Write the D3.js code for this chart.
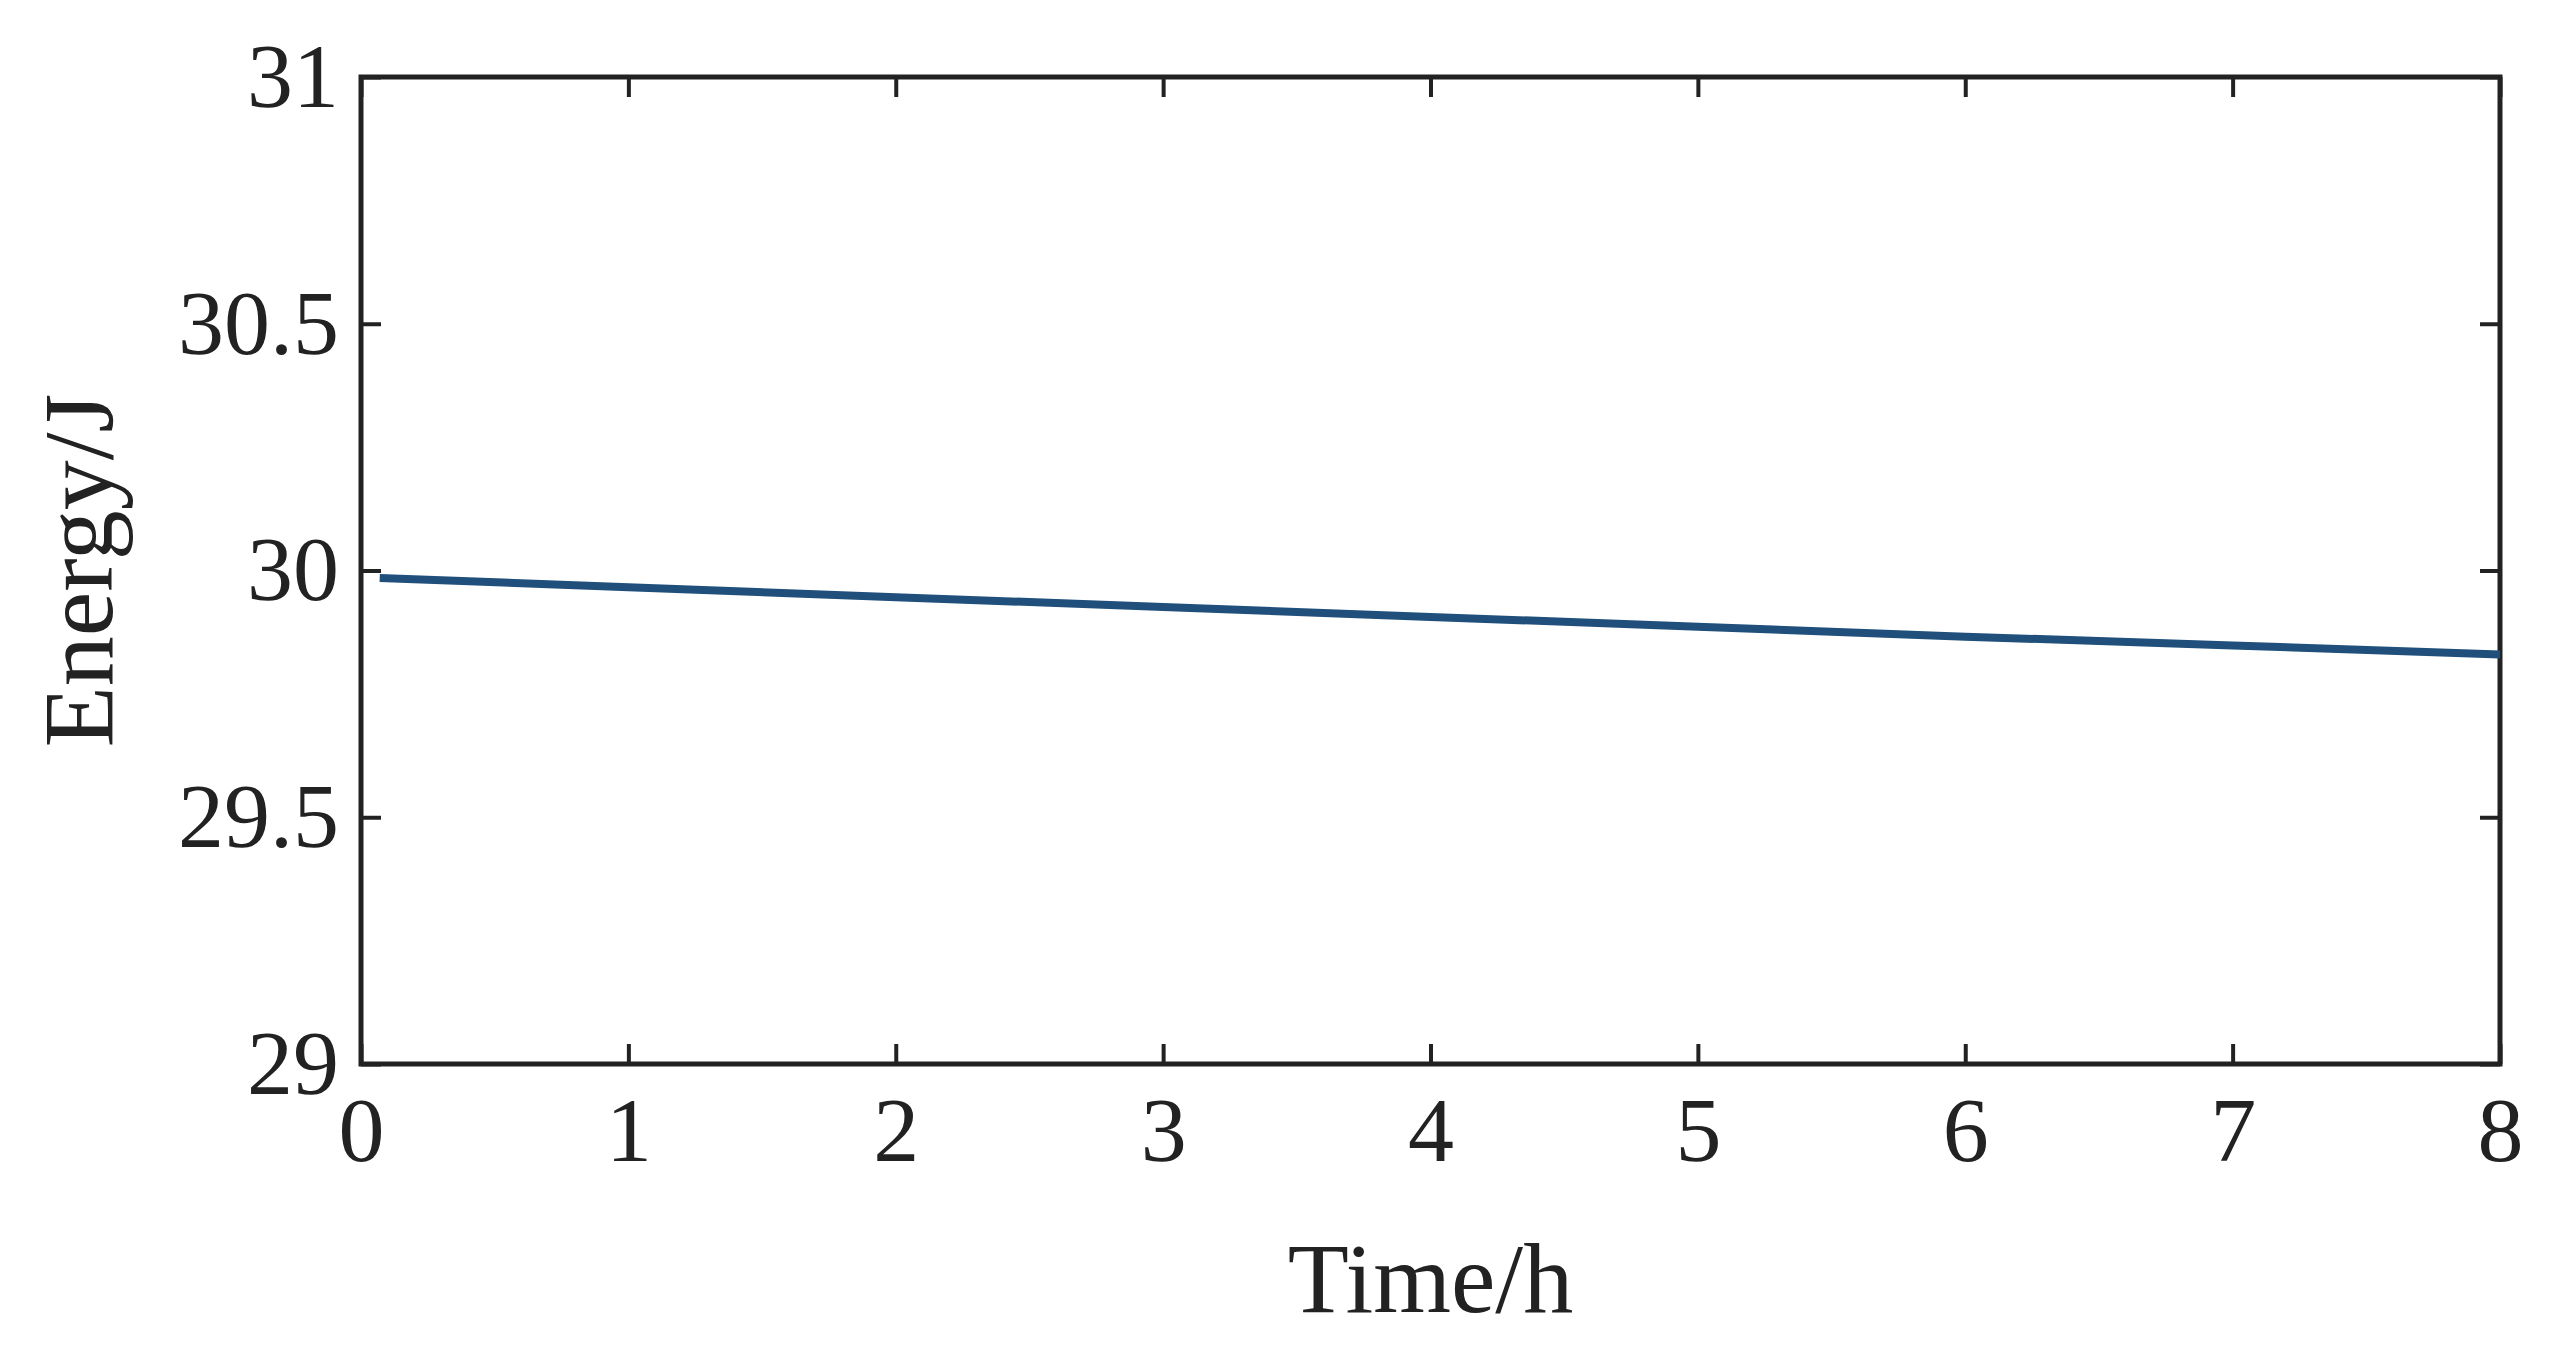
<!DOCTYPE html>
<html>
<head>
<meta charset="utf-8">
<script src="https://cdn.jsdelivr.net/npm/d3@7"></script>
<style>
  body { margin: 0; background: #fff; }
  text { font-family: 'Liberation Serif', 'DejaVu Serif', serif; fill: #222; }
</style>
</head>
<body>
<svg id="chart" width="2562" height="1358"></svg>
<script>
// Data
const timeH = [0.07, 1, 2, 3, 4, 5, 6, 7, 8];
const energyJ = [29.985, 29.966, 29.946, 29.926, 29.906, 29.886, 29.866, 29.848, 29.83];
const xTicks = [0, 1, 2, 3, 4, 5, 6, 7, 8];
const yTicks = [29, 29.5, 30, 30.5, 31];

const margin = { top: 77, right: 62, bottom: 294, left: 361 };
const width = 2562 - margin.left - margin.right;
const height = 1358 - margin.top - margin.bottom;

const svg = d3.select('#chart');
const g = svg.append('g').attr('transform', `translate(${margin.left},${margin.top})`);

const x = d3.scaleLinear().domain([0, 8]).range([0, width]);
const y = d3.scaleLinear().domain([29, 31]).range([height, 0]);

const tickLen = 20;
const fontSize = 92;

// Axes with inward ticks on all four sides
const styleAxis = (sel) => {
  sel.select('.domain').remove();
  sel.selectAll('line').attr('stroke', '#222').attr('stroke-width', 4);
  sel.selectAll('text').style('font-size', fontSize + 'px');
};

g.append('g').attr('transform', `translate(0,${height})`)
  .call(d3.axisBottom(x).tickValues(xTicks).tickSizeInner(-tickLen).tickSizeOuter(0).tickPadding(32).tickFormat(d3.format('d')))
  .call(styleAxis);
g.append('g')
  .call(d3.axisTop(x).tickValues(xTicks).tickSizeInner(-tickLen).tickSizeOuter(0).tickFormat(''))
  .call(styleAxis);
g.append('g')
  .call(d3.axisLeft(y).tickValues(yTicks).tickSizeInner(-tickLen).tickSizeOuter(0).tickPadding(22).tickFormat(d => d))
  .call(styleAxis);
g.append('g').attr('transform', `translate(${width},0)`)
  .call(d3.axisRight(y).tickValues(yTicks).tickSizeInner(-tickLen).tickSizeOuter(0).tickFormat(''))
  .call(styleAxis);

g.append('rect')
  .attr('width', width).attr('height', height)
  .attr('fill', 'none').attr('stroke', '#222').attr('stroke-width', 5);

// Line
g.append('path')
  .datum(timeH.map((t, i) => [t, energyJ[i]]))
  .attr('fill', 'none')
  .attr('stroke', '#1f4f7a')
  .attr('stroke-width', 8)
  .attr('d', d3.line().x(d => x(d[0])).y(d => y(d[1])));

// Axis labels
svg.append('text')
  .attr('x', margin.left + width / 2)
  .attr('y', 1312)
  .attr('text-anchor', 'middle')
  .style('font-size', '100px')
  .text('Time/h');

svg.append('text')
  .attr('transform', `translate(112,${margin.top + height / 2}) rotate(-90)`)
  .attr('text-anchor', 'middle')
  .style('font-size', '100px')
  .text('Energy/J');
</script>
</body>
</html>
